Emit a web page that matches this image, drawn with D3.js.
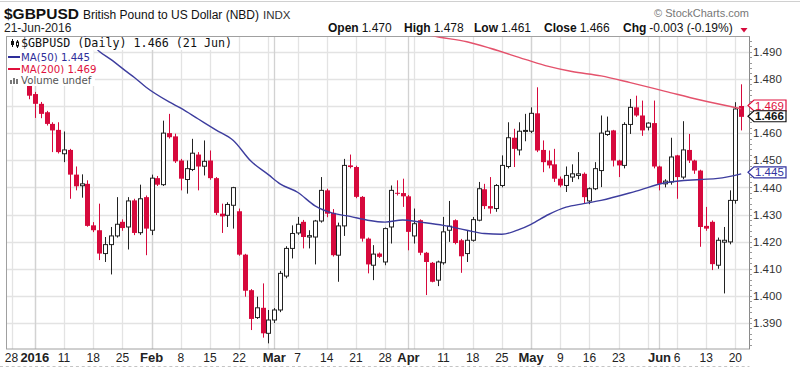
<!DOCTYPE html>
<html>
<head>
<meta charset="utf-8">
<script src="https://cdn.jsdelivr.net/npm/d3@7"></script>
<style>
  body { margin: 0; background: #fff; }
  svg { display: block; font-family: "Liberation Sans", Arial, sans-serif; }
</style>
</head>
<body>
<div id="chart"></div>
<script>
// trading days shown on the chart
const dates = [
  '2015-12-28','2015-12-29','2015-12-30','2015-12-31',
  '2016-01-04','2016-01-05','2016-01-06','2016-01-07','2016-01-08',
  '2016-01-11','2016-01-12','2016-01-13','2016-01-14','2016-01-15',
  '2016-01-18','2016-01-19','2016-01-20','2016-01-21','2016-01-22',
  '2016-01-25','2016-01-26','2016-01-27','2016-01-28','2016-01-29',
  '2016-02-01','2016-02-02','2016-02-03','2016-02-04','2016-02-05',
  '2016-02-08','2016-02-09','2016-02-10','2016-02-11','2016-02-12',
  '2016-02-15','2016-02-16','2016-02-17','2016-02-18','2016-02-19',
  '2016-02-22','2016-02-23','2016-02-24','2016-02-25','2016-02-26',
  '2016-02-29','2016-03-01','2016-03-02','2016-03-03','2016-03-04',
  '2016-03-07','2016-03-08','2016-03-09','2016-03-10','2016-03-11',
  '2016-03-14','2016-03-15','2016-03-16','2016-03-17','2016-03-18',
  '2016-03-21','2016-03-22','2016-03-23','2016-03-24','2016-03-25',
  '2016-03-28','2016-03-29','2016-03-30','2016-03-31','2016-04-01',
  '2016-04-04','2016-04-05','2016-04-06','2016-04-07','2016-04-08',
  '2016-04-11','2016-04-12','2016-04-13','2016-04-14','2016-04-15',
  '2016-04-18','2016-04-19','2016-04-20','2016-04-21','2016-04-22',
  '2016-04-25','2016-04-26','2016-04-27','2016-04-28','2016-04-29',
  '2016-05-02','2016-05-03','2016-05-04','2016-05-05','2016-05-06',
  '2016-05-09','2016-05-10','2016-05-11','2016-05-12','2016-05-13',
  '2016-05-16','2016-05-17','2016-05-18','2016-05-19','2016-05-20',
  '2016-05-23','2016-05-24','2016-05-25','2016-05-26','2016-05-27',
  '2016-05-30','2016-05-31','2016-06-01','2016-06-02','2016-06-03',
  '2016-06-06','2016-06-07','2016-06-08','2016-06-09','2016-06-10',
  '2016-06-13','2016-06-14','2016-06-15','2016-06-16','2016-06-17',
  '2016-06-20','2016-06-21'
];

const open = [
  1.4910,1.4890,1.4820,1.4790,
  1.4744,1.4708,1.4677,1.4634,1.4612,
  1.4524,1.4538,1.4447,1.4406,1.4413,
  1.4260,1.4242,1.4156,1.4189,1.4221,
  1.4273,1.4254,1.4352,1.4233,1.4364,
  1.4242,1.4434,1.4410,1.4600,1.4588,
  1.4499,1.4429,1.4466,1.4521,1.4478,
  1.4499,1.4434,1.4303,1.4297,1.4334,
  1.4312,1.4152,1.4021,1.3920,1.3956,
  1.3862,1.3911,1.3948,1.4073,1.4175,
  1.4232,1.4273,1.4217,1.4217,1.4276,
  1.4389,1.4306,1.4150,1.4258,1.4481,
  1.4475,1.4365,1.4211,1.4113,1.4156,
  1.4125,1.4254,1.4380,1.4379,1.4367,
  1.4221,1.4279,1.4159,1.4122,1.4058,
  1.4122,1.4242,1.4279,1.4205,1.4156,
  1.4205,1.4279,1.4393,1.4331,1.4322,
  1.4407,1.4477,1.4583,1.4538,1.4608,
  1.4607,1.4673,1.4538,1.4499,1.4485,
  1.4432,1.4407,1.4438,1.4444,1.4450,
  1.4350,1.4395,1.4462,1.4595,1.4610,
  1.4499,1.4481,1.4632,1.4695,1.4665,
  1.4622,1.4637,1.4477,1.4413,1.4420,
  1.4518,1.4438,1.4538,1.4499,1.4462,
  1.4258,1.4273,1.4113,1.4198,1.4199,
  1.4352,1.4700
];
const high = [
  1.4935,1.4905,1.4850,1.4800,
  1.4752,1.4715,1.4682,1.4640,1.4640,
  1.4606,1.4542,1.4477,1.4448,1.4426,
  1.4272,1.4340,1.4217,1.4254,1.4364,
  1.4282,1.4364,1.4358,1.4410,1.4370,
  1.4447,1.4442,1.4646,1.4671,1.4598,
  1.4505,1.4499,1.4579,1.4530,1.4573,
  1.4536,1.4438,1.4340,1.4345,1.4402,
  1.4322,1.4155,1.4025,1.3997,1.4046,
  1.3948,1.3955,1.4092,1.4183,1.4260,
  1.4291,1.4280,1.4242,1.4280,1.4438,
  1.4395,1.4320,1.4270,1.4505,1.4521,
  1.4480,1.4368,1.4215,1.4187,1.4160,
  1.4252,1.4407,1.4426,1.4432,1.4372,
  1.4322,1.4282,1.4162,1.4125,1.4130,
  1.4291,1.4350,1.4282,1.4210,1.4242,
  1.4291,1.4420,1.4413,1.4438,1.4412,
  1.4518,1.4640,1.4616,1.4640,1.4671,
  1.4695,1.4769,1.4573,1.4536,1.4542,
  1.4440,1.4477,1.4485,1.4530,1.4455,
  1.4400,1.4493,1.4665,1.4661,1.4612,
  1.4502,1.4640,1.4726,1.4738,1.4720,
  1.4640,1.4720,1.4480,1.4430,1.4583,
  1.4520,1.4644,1.4597,1.4502,1.4465,
  1.4328,1.4278,1.4215,1.4254,1.4389,
  1.4714,1.4780
];
const low = [
  1.4870,1.4810,1.4790,1.4725,
  1.4656,1.4655,1.4628,1.4530,1.4525,
  1.4493,1.4358,1.4389,1.4362,1.4255,
  1.4235,1.4132,1.4125,1.4079,1.4215,
  1.4240,1.4171,1.4224,1.4225,1.4150,
  1.4224,1.4405,1.4405,1.4580,1.4490,
  1.4389,1.4377,1.4460,1.4389,1.4444,
  1.4428,1.4298,1.4232,1.4254,1.4248,
  1.4148,1.3997,1.3874,1.3915,1.3846,
  1.3825,1.3900,1.3940,1.4065,1.4138,
  1.4225,1.4175,1.4175,1.4116,1.4270,
  1.4290,1.4145,1.4052,1.4221,1.4470,
  1.4360,1.4200,1.4083,1.4058,1.4140,
  1.4113,1.4193,1.4370,1.4328,1.4168,
  1.4193,1.4150,1.4003,1.4050,1.4036,
  1.4115,1.4199,1.4190,1.4085,1.4125,
  1.4200,1.4275,1.4320,1.4303,1.4310,
  1.4400,1.4470,1.4475,1.4518,1.4570,
  1.4600,1.4530,1.4456,1.4470,1.4420,
  1.4400,1.4383,1.4420,1.4430,1.4340,
  1.4338,1.4390,1.4401,1.4590,1.4477,
  1.4438,1.4470,1.4597,1.4660,1.4590,
  1.4610,1.4470,1.4389,1.4400,1.4410,
  1.4358,1.4430,1.4490,1.4450,1.4181,
  1.4240,1.4095,1.4100,1.4009,1.4190,
  1.4340,1.4610
];
const close = [
  1.4890,1.4820,1.4815,1.4738,
  1.4708,1.4671,1.4634,1.4610,1.4530,
  1.4538,1.4447,1.4404,1.4413,1.4258,
  1.4242,1.4156,1.4189,1.4221,1.4264,
  1.4250,1.4350,1.4232,1.4358,1.4248,
  1.4434,1.4410,1.4600,1.4585,1.4496,
  1.4432,1.4469,1.4526,1.4477,1.4496,
  1.4434,1.4306,1.4293,1.4337,1.4399,
  1.4152,1.4019,1.3915,1.3956,1.3862,
  1.3911,1.3948,1.4083,1.4175,1.4230,
  1.4264,1.4217,1.4222,1.4276,1.4389,
  1.4303,1.4150,1.4258,1.4481,1.4475,
  1.4365,1.4211,1.4116,1.4154,1.4144,
  1.4248,1.4389,1.4377,1.4367,1.4236,
  1.4266,1.4159,1.4125,1.4052,1.4125,
  1.4236,1.4257,1.4195,1.4146,1.4205,
  1.4281,1.4395,1.4331,1.4322,1.4407,
  1.4481,1.4583,1.4542,1.4607,1.4610,
  1.4673,1.4536,1.4493,1.4481,1.4432,
  1.4407,1.4444,1.4450,1.4450,1.4364,
  1.4395,1.4469,1.4600,1.4607,1.4499,
  1.4481,1.4632,1.4695,1.4665,1.4610,
  1.4637,1.4477,1.4413,1.4423,1.4512,
  1.4438,1.4538,1.4499,1.4462,1.4254,
  1.4248,1.4117,1.4205,1.4205,1.4352,
  1.4689,1.4660
];

// moving averages (index into dates, value)
const ma50At = [12,13,15,17,20,21,23,27,29,32,35,38,41,44,46,49,52,55,58,61,64,67,70,74,78,81,84,87,89,92,95,98,101,107,112,118,121,125];
const ma50 = [1.4968,1.4948,1.4902,1.4872,1.4822,1.4806,1.4770,1.4715,1.4692,1.4652,1.4612,1.4573,1.4497,1.4447,1.4413,1.4382,1.4332,1.4305,1.4293,1.4279,1.4272,1.4280,1.4272,1.4260,1.4242,1.4230,1.4227,1.4245,1.4264,1.4300,1.4327,1.4340,1.4352,1.4386,1.4417,1.4429,1.4433,1.4450];
const ma200At = [71,72,78,82,88,92,96,101,106,112,118,125];
const ma200 = [1.4966,1.4960,1.4937,1.4913,1.4872,1.4846,1.4827,1.4811,1.4786,1.4754,1.4722,1.4690];

const yTicks = [1.390,1.400,1.410,1.420,1.430,1.440,1.450,1.460,1.470,1.480,1.490];
const xTicks = [
  ['2015-12-28','28'],['2016-01-04','2016'],['2016-01-11','11'],['2016-01-18','18'],['2016-01-25','25'],
  ['2016-02-01','Feb'],['2016-02-08','8'],['2016-02-15','15'],['2016-02-22','22'],
  ['2016-03-01','Mar'],['2016-03-07','7'],['2016-03-14','14'],['2016-03-21','21'],['2016-03-28','28'],
  ['2016-04-01','Apr'],['2016-04-11','11'],['2016-04-18','18'],['2016-04-25','25'],
  ['2016-05-02','May'],['2016-05-09','9'],['2016-05-16','16'],['2016-05-23','23'],
  ['2016-06-01','Jun'],['2016-06-06','6'],['2016-06-13','13'],['2016-06-20','20']
];
const lastTags = [
  { v: 1.469, color: '#e0103c', bold: false, shift: -3.2 },
  { v: 1.466, color: '#111', bold: true, shift: -0.6 },
  { v: 1.445, color: '#3232a0', bold: false, shift: -1.5 }
];

const width = 800, height = 368;
const plot = { left: 6.5, top: 36.5, right: 749.5, bottom: 349 };
const red = '#d6093c', ma50Color = '#3d3d9e', ma200Color = '#e4526c';

const svg = d3.select('#chart').append('svg')
  .attr('width', width)
  .attr('height', height);

const x = d3.scalePoint().domain(dates).range([11.5, 741.2]);
const y = d3.scaleLinear().domain([1.39, 1.49]).range([323, 51.75]);

svg.append('defs').append('clipPath').attr('id', 'clip')
  .append('rect')
  .attr('x', plot.left).attr('y', plot.top)
  .attr('width', plot.right - plot.left).attr('height', plot.bottom - plot.top);

// thin frame line at very top
svg.append('line').attr('x1', 0).attr('x2', width).attr('y1', 1.5).attr('y2', 1.5)
  .attr('stroke', '#d0d0d0');

// grid
const grid = svg.append('g');
grid.selectAll('.hg').data(yTicks).enter().append('line')
  .attr('x1', plot.left).attr('x2', plot.right)
  .attr('y1', d => Math.round(y(d)) + 0.5).attr('y2', d => Math.round(y(d)) + 0.5)
  .attr('stroke', '#e3e3e3').attr('stroke-width', 1.3);

const mondays = dates.filter(d => new Date(d + 'T00:00:00Z').getUTCDay() === 1);
const monthStarts = dates.filter((d, i) => i > 0 && d.slice(5, 7) !== dates[i - 1].slice(5, 7));
grid.selectAll('.vg').data(mondays).enter().append('line')
  .attr('x1', d => Math.round(x(d)) + 0.5).attr('x2', d => Math.round(x(d)) + 0.5)
  .attr('y1', plot.top).attr('y2', plot.bottom)
  .attr('stroke', '#e3e3e3').attr('stroke-width', 1.3);
grid.selectAll('.mg').data(monthStarts).enter().append('line')
  .attr('x1', d => Math.round(x(d)) + 0.5).attr('x2', d => Math.round(x(d)) + 0.5)
  .attr('y1', plot.top).attr('y2', plot.bottom)
  .attr('stroke', '#d2d2d2').attr('stroke-width', 1.3);

// frame
svg.append('rect')
  .attr('x', plot.left).attr('y', plot.top)
  .attr('width', plot.right - plot.left).attr('height', plot.bottom - plot.top)
  .attr('fill', 'none').attr('stroke', '#a0a0a0');

// candles
const candles = dates.map((d, i) => ({ d, o: open[i], h: high[i], l: low[i], c: close[i] }));
const cx = d => Math.round(x(d.d)) + 0.5;
const cg = svg.append('g').attr('clip-path', 'url(#clip)');

cg.selectAll('.wick').data(candles).enter().append('line')
  .attr('x1', cx).attr('x2', cx)
  .attr('y1', d => y(d.h)).attr('y2', d => y(d.l))
  .attr('stroke', d => d.c >= d.o ? '#222' : red);

cg.selectAll('.body').data(candles).enter().append('rect')
  .attr('x', d => d.c >= d.o ? cx(d) - 2 : cx(d) - 2.5)
  .attr('width', d => d.c >= d.o ? 4 : 5)
  .attr('y', d => y(Math.max(d.o, d.c)))
  .attr('height', d => Math.max(1, Math.abs(y(d.o) - y(d.c))))
  .attr('fill', d => d.c >= d.o ? '#fff' : red)
  .attr('stroke', d => d.c >= d.o ? '#222' : 'none');

// moving averages
const maLine = d3.line()
  .x(d => x(dates[d[0]]))
  .y(d => y(d[1]))
  .curve(d3.curveMonotoneX);
cg.append('path').datum(d3.zip(ma200At, ma200))
  .attr('d', maLine).attr('fill', 'none')
  .attr('stroke', ma200Color).attr('stroke-width', 1.4);
cg.append('path').datum(d3.zip(ma50At, ma50))
  .attr('d', maLine).attr('fill', 'none')
  .attr('stroke', ma50Color).attr('stroke-width', 1.4);

// right axis
const ax = svg.append('g');
ax.append('line').attr('x1', plot.right).attr('x2', plot.right)
  .attr('y1', plot.top).attr('y2', plot.bottom).attr('stroke', '#8a8a8a');
const minor = d3.range(1.382, 1.497, 0.002).filter(v => y(v) > plot.top && y(v) < plot.bottom);
ax.selectAll('.mt').data(minor).enter().append('line')
  .attr('x1', plot.right).attr('x2', plot.right + 2.5)
  .attr('y1', d => Math.round(y(d)) + 0.5).attr('y2', d => Math.round(y(d)) + 0.5)
  .attr('stroke', '#999');
ax.selectAll('.yl').data(yTicks).enter().append('text')
  .attr('x', 753).attr('y', d => y(d)).attr('dy', '0.36em')
  .attr('font-size', 11.5).attr('fill', '#333')
  .text(d => d.toFixed(3));

// last value tags
lastTags.forEach(t => {
  const ty = y(t.v) + t.shift;
  const tg = svg.append('g');
  tg.append('polygon')
    .attr('points', [[748, ty], [754, ty - 5.5], [786, ty - 5.5], [786, ty + 5.5], [754, ty + 5.5]].join(' '))
    .attr('fill', '#fff').attr('stroke', t.color).attr('stroke-width', 1.2);
  tg.append('text').attr('x', 755).attr('y', ty).attr('dy', '0.36em')
    .attr('font-size', 11.5).attr('font-weight', t.bold ? 'bold' : 'normal')
    .attr('fill', t.color).text(t.v.toFixed(3));
});

// bottom axis
const bx = svg.append('g');
bx.append('line').attr('x1', 0).attr('x2', plot.right).attr('y1', 366.5).attr('y2', 366.5)
  .attr('stroke', '#c4c4c4').attr('stroke-dasharray', '3,2.84');
bx.selectAll('.xl').data(xTicks).enter().append('text')
  .attr('x', d => x(d[0])).attr('y', 362)
  .attr('text-anchor', 'middle')
  .attr('font-size', d => isNaN(+d[1]) || d[1] === '2016' ? 13 : 12)
  .attr('font-weight', d => isNaN(+d[1]) || d[1] === '2016' ? 'bold' : 'normal')
  .attr('fill', '#222')
  .text(d => d[1]);

// header
const h1 = svg.append('text').attr('x', 4).attr('y', 19).attr('fill', '#111');
h1.append('tspan').attr('font-size', 15.5).attr('font-weight', 'bold').text('$GBPUSD');
h1.append('tspan').attr('font-size', 12).attr('dx', 4).text('British Pound to US Dollar (NBD)');
h1.append('tspan').attr('font-size', 11.5).attr('dx', 4).attr('fill', '#333').text('INDX');
svg.append('text').attr('x', 4).attr('y', 32).attr('font-size', 12).attr('fill', '#222').text('21-Jun-2016');
svg.append('text').attr('x', 749).attr('y', 17).attr('text-anchor', 'end')
  .attr('font-size', 11).attr('fill', '#777').text('\u00a9 StockCharts.com');

const quote = [['Open', '1.470', 328], ['High', '1.478', 404], ['Low', '1.461', 474],
  ['Close', '1.466', 544], ['Chg', '-0.003 (-0.19%)', 623]];
quote.forEach(q => {
  const t = svg.append('text').attr('x', q[2]).attr('y', 32).attr('font-size', 12).attr('fill', '#111');
  t.append('tspan').attr('font-weight', 'bold').text(q[0]);
  t.append('tspan').attr('dx', 3).text(q[1]);
});
svg.append('path').attr('d', 'M740.5,28 L747.5,28 L744,32.5 Z').attr('fill', red);

// legend
const leg = svg.append('g');
const rows = [
  { text: '$GBPUSD (Daily) 1.466 (21 Jun)', y0: 37, y1: 50, base: 47, font: '"DejaVu Sans Mono", monospace', size: 11.7, color: '#111' },
  { text: 'MA(50) 1.445', y0: 50, y1: 62, base: 60.5, font: '"DejaVu Sans", Verdana, sans-serif', size: 10.2, color: '#2e2e9a' },
  { text: 'MA(200) 1.469', y0: 62, y1: 74, base: 72.5, font: '"DejaVu Sans", Verdana, sans-serif', size: 10.2, color: '#e0103c' },
  { text: 'Volume undef', y0: 74, y1: 86, base: 84, font: '"DejaVu Sans", Verdana, sans-serif', size: 10.2, color: '#555' }
];
rows.forEach((r, i) => {
  const bg = leg.append('rect').attr('x', plot.left + 0.5).attr('y', r.y0).attr('height', r.y1 - r.y0).attr('fill', '#fff');
  const t = leg.append('text').attr('x', 21).attr('y', r.base)
    .attr('font-family', r.font).attr('font-size', r.size).attr('fill', r.color).text(r.text);
  bg.attr('width', 21 + t.node().getComputedTextLength() + 3 - plot.left);
  if (i === 0) {
    leg.append('line').attr('x1', 12.5).attr('x2', 12.5).attr('y1', 39).attr('y2', 47).attr('stroke', '#111');
    leg.append('rect').attr('x', 11).attr('y', 41).attr('width', 3).attr('height', 4).attr('fill', '#111');
    leg.append('line').attr('x1', 17.5).attr('x2', 17.5).attr('y1', 40).attr('y2', 48).attr('stroke', '#111');
    leg.append('rect').attr('x', 16.5).attr('y', 42).attr('width', 2).attr('height', 4).attr('fill', '#fff').attr('stroke', '#111');
  } else if (i < 3) {
    leg.append('line').attr('x1', 8).attr('x2', 20).attr('y1', r.base - 3.5).attr('y2', r.base - 3.5)
      .attr('stroke', r.color).attr('stroke-width', 2);
  } else {
    [[10, 4], [13, 6], [16, 5]].forEach(b => leg.append('rect')
      .attr('x', b[0]).attr('y', r.base - b[1]).attr('width', 2).attr('height', b[1]).attr('fill', '#777'));
  }
});
</script>
</body>
</html>
